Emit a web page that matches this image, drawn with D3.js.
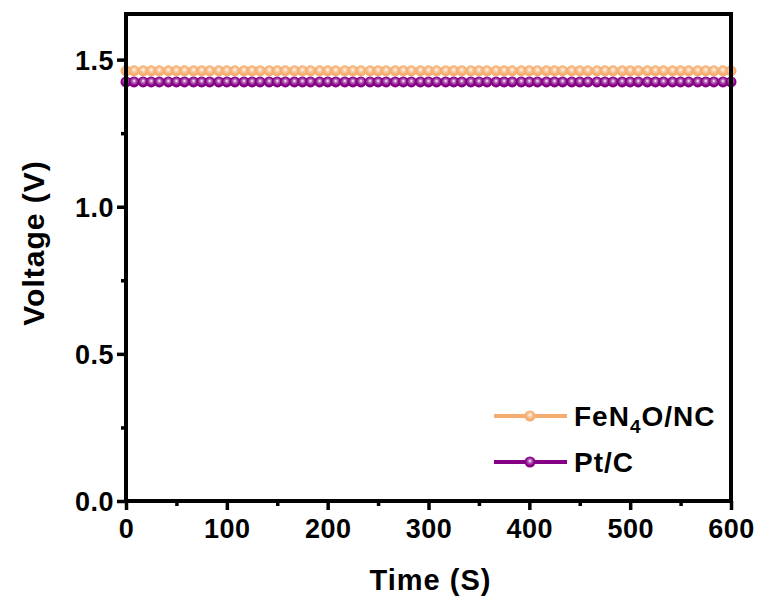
<!DOCTYPE html>
<html>
<head>
<meta charset="utf-8">
<script src="https://cdn.jsdelivr.net/npm/d3@7"></script>
<style>
  body { margin: 0; background: #fff; }
  text { font-family: Arial, "Liberation Sans", sans-serif; font-weight: bold; fill: #000; }
</style>
</head>
<body>
<svg id="chart" width="761" height="601"></svg>
<script>
// sample times (s), one marker each
const times = [0,8,17,25,33,42,50,58,67,75,83,92,
  100,108,117,125,133,142,150,158,167,175,183,192,
  200,208,217,225,233,242,250,258,267,275,283,292,
  300,308,317,325,333,342,350,358,367,375,383,392,
  400,408,417,425,433,442,450,458,467,475,483,492,
  500,508,517,525,533,542,550,558,567,575,583,592,600];

const fen4oVoltage = [1.462,1.462,1.462,1.462,1.462,1.462,1.462,1.462,1.462,1.462,1.462,1.462,
  1.462,1.462,1.462,1.462,1.462,1.462,1.462,1.462,1.462,1.462,1.462,1.462,
  1.462,1.462,1.462,1.462,1.462,1.462,1.462,1.462,1.462,1.462,1.462,1.462,
  1.462,1.462,1.462,1.462,1.462,1.462,1.462,1.462,1.462,1.462,1.462,1.462,
  1.462,1.462,1.462,1.462,1.462,1.462,1.462,1.462,1.462,1.462,1.462,1.462,
  1.462,1.462,1.462,1.462,1.462,1.462,1.462,1.462,1.462,1.462,1.462,1.462,1.462];

const ptcVoltage = [1.424,1.424,1.424,1.424,1.424,1.424,1.424,1.424,1.424,1.424,1.424,1.424,
  1.424,1.424,1.424,1.424,1.424,1.424,1.424,1.424,1.424,1.424,1.424,1.424,
  1.424,1.424,1.424,1.424,1.424,1.424,1.424,1.424,1.424,1.424,1.424,1.424,
  1.424,1.424,1.424,1.424,1.424,1.424,1.424,1.424,1.424,1.424,1.424,1.424,
  1.424,1.424,1.424,1.424,1.424,1.424,1.424,1.424,1.424,1.424,1.424,1.424,
  1.424,1.424,1.424,1.424,1.424,1.424,1.424,1.424,1.424,1.424,1.424,1.424,1.424];

const xTicks = [0, 100, 200, 300, 400, 500, 600];
const yTicks = [0.0, 0.5, 1.0, 1.5];

const series = [
  { id: "fen4o", name: "FeN4O/NC", color: "#f5ae70", values: fen4oVoltage },
  { id: "ptc", name: "Pt/C", color: "#850085", values: ptcVoltage }
];

const svg = d3.select("#chart");
const margin = { top: 14, right: 30, bottom: 100, left: 126 };
const width = 761 - margin.left - margin.right;
const height = 601 - margin.top - margin.bottom;

const x = d3.scaleLinear().domain([0, 600]).range([0, width]);
const y = d3.scaleLinear().domain([0, 1.655]).range([height, 0]);

// shiny ball markers
const defs = svg.append("defs");
series.forEach(s => {
  const g = defs.append("radialGradient")
    .attr("id", `ball-${s.id}`)
    .attr("cx", "50%").attr("cy", "45%").attr("r", "55%")
    .attr("fx", "50%").attr("fy", "40%");
  g.append("stop").attr("offset", "0%").attr("stop-color", "#ffffff");
  g.append("stop").attr("offset", "30%").attr("stop-color", d3.interpolateRgb(s.color, "#fff")(0.4));
  g.append("stop").attr("offset", "70%").attr("stop-color", s.color);
  g.append("stop").attr("offset", "100%").attr("stop-color", s.color);
});

const plot = svg.append("g").attr("transform", `translate(${margin.left},${margin.top})`);

const line = d3.line().x((d, i) => x(times[i])).y(d => y(d));

series.forEach(s => {
  plot.append("path")
    .datum(s.values)
    .attr("d", line)
    .attr("fill", "none")
    .attr("stroke", s.color)
    .attr("stroke-width", 3);

  plot.append("g")
    .selectAll("circle")
    .data(s.values)
    .join("circle")
    .attr("cx", (d, i) => x(times[i]))
    .attr("cy", d => y(d))
    .attr("r", 5.5)
    .attr("fill", `url(#ball-${s.id})`);
});

// axes
const xAxis = plot.append("g")
  .attr("transform", `translate(0,${height})`)
  .call(d3.axisBottom(x).tickValues(xTicks).tickFormat(d3.format("d")).tickSize(9).tickPadding(3).tickSizeOuter(0));
plot.append("g")
  .attr("transform", `translate(0,${height})`)
  .call(d3.axisBottom(x).tickValues(xTicks.slice(0, -1).map(d => d + 50)).tickFormat("").tickSize(5).tickSizeOuter(0));

const yAxis = plot.append("g")
  .call(d3.axisLeft(y).tickValues(yTicks).tickFormat(d3.format(".1f")).tickSize(9).tickPadding(3).tickSizeOuter(0));
plot.append("g")
  .call(d3.axisLeft(y).tickValues(yTicks.map(d => d + 0.25)).tickFormat("").tickSize(5).tickSizeOuter(0));

plot.selectAll(".domain").remove();
plot.selectAll(".tick line").attr("stroke", "#000").attr("stroke-width", 3.5);

xAxis.selectAll("text").attr("font-size", 27).attr("letter-spacing", 0.5).attr("dy", "0.92em");
yAxis.selectAll("text").attr("font-size", 27).attr("letter-spacing", 0.5).attr("dy", "0.36em");

// frame
plot.append("rect")
  .attr("width", width).attr("height", height)
  .attr("fill", "none")
  .attr("stroke", "#000")
  .attr("stroke-width", 4);

// axis titles
svg.append("text")
  .attr("x", margin.left + width / 2 + 2)
  .attr("y", 590)
  .attr("text-anchor", "middle")
  .attr("font-size", 29)
  .attr("letter-spacing", 1)
  .text("Time (S)");

svg.append("text")
  .attr("transform", `translate(44,243) rotate(-90)`)
  .attr("text-anchor", "middle")
  .attr("font-size", 30)
  .attr("letter-spacing", 1)
  .text("Voltage (V)");

// legend
const legend = svg.append("g");
const legendRows = [
  { s: series[0], y: 416 },
  { s: series[1], y: 462 }
];
legendRows.forEach(r => {
  legend.append("line")
    .attr("x1", 494).attr("x2", 567)
    .attr("y1", r.y).attr("y2", r.y)
    .attr("stroke", r.s.color).attr("stroke-width", 4);
  legend.append("circle")
    .attr("cx", 530).attr("cy", r.y).attr("r", 5.5)
    .attr("fill", `url(#ball-${r.s.id})`);
});

const t1 = legend.append("text").attr("x", 574).attr("y", 426).attr("font-size", 28).attr("letter-spacing", 1);
t1.append("tspan").text("FeN");
t1.append("tspan").attr("font-size", 19).attr("dy", 7).text("4");
t1.append("tspan").attr("dy", -7).text("O/NC");

legend.append("text").attr("x", 574).attr("y", 472).attr("font-size", 28).attr("letter-spacing", 1).text("Pt/C");
</script>
</body>
</html>
